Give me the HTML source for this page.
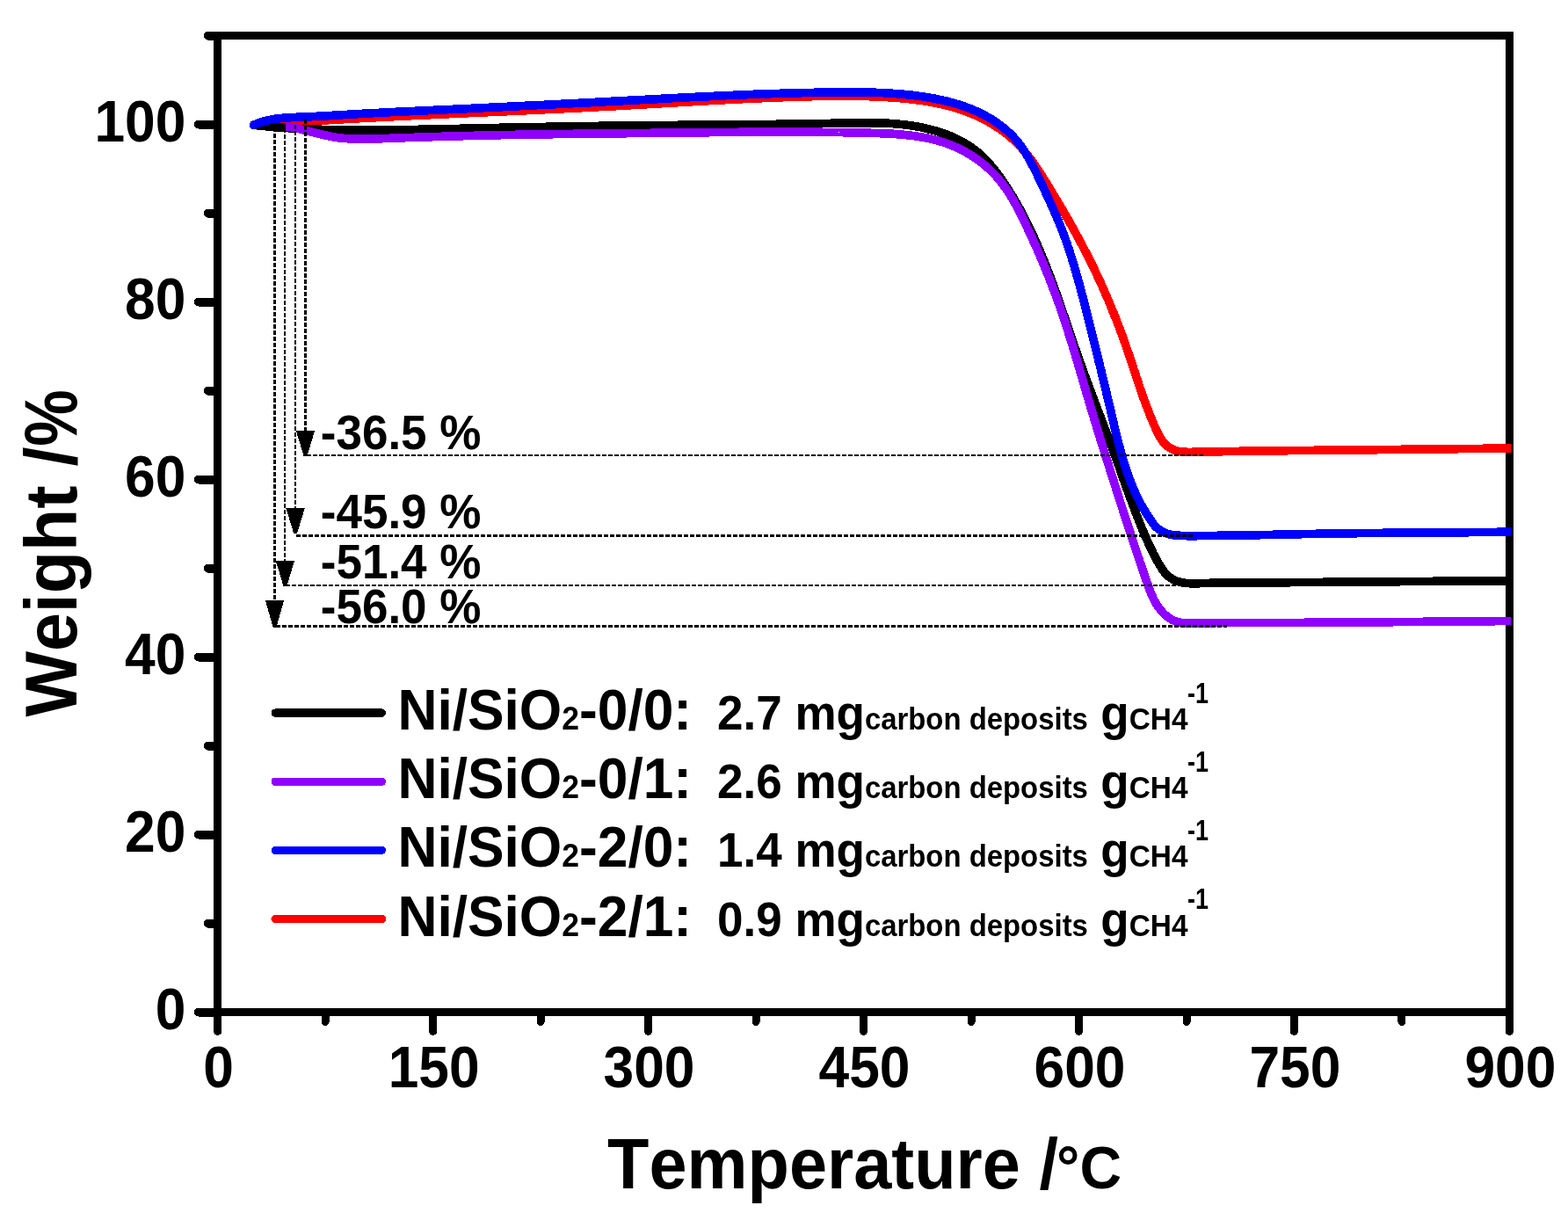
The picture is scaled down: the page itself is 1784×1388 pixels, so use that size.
<!DOCTYPE html>
<html lang="en"><head><meta charset="utf-8"><title>TGA weight loss of spent Ni/SiO2 catalysts</title>
<style>html,body{margin:0;padding:0;background:#fff}svg{display:block}text{font-family:"Liberation Sans",Arial,sans-serif;font-weight:bold;fill:#000;font-kerning:none}</style></head><body>
<svg width="1784" height="1388" viewBox="0 0 1784 1388">
<rect width="1784" height="1388" fill="#fff"/>
<g stroke="#000" stroke-width="9.0" fill="none" stroke-linecap="round" shape-rendering="crispEdges">
<rect x="247.6" y="40.4" width="1469.8" height="1111.0" stroke-linejoin="miter"/>
<line x1="247.6" y1="1151.7" x2="225.6" y2="1151.7" stroke-width="9.6"/>
<line x1="247.6" y1="1050.7" x2="236.4" y2="1050.7" stroke-width="9.6"/>
<line x1="247.6" y1="949.7" x2="225.6" y2="949.7" stroke-width="9.6"/>
<line x1="247.6" y1="848.7" x2="236.4" y2="848.7" stroke-width="9.6"/>
<line x1="247.6" y1="747.7" x2="225.6" y2="747.7" stroke-width="9.6"/>
<line x1="247.6" y1="646.7" x2="236.4" y2="646.7" stroke-width="9.6"/>
<line x1="247.6" y1="545.7" x2="225.6" y2="545.7" stroke-width="9.6"/>
<line x1="247.6" y1="444.7" x2="236.4" y2="444.7" stroke-width="9.6"/>
<line x1="247.6" y1="343.7" x2="225.6" y2="343.7" stroke-width="9.6"/>
<line x1="247.6" y1="242.7" x2="236.4" y2="242.7" stroke-width="9.6"/>
<line x1="247.6" y1="141.7" x2="225.6" y2="141.7" stroke-width="9.6"/>
<line x1="247.6" y1="40.7" x2="236.4" y2="40.7" stroke-width="9.6"/>
<line x1="247.6" y1="1151.4" x2="247.6" y2="1173.4"/>
<line x1="370.1" y1="1151.4" x2="370.1" y2="1162.6"/>
<line x1="492.6" y1="1151.4" x2="492.6" y2="1173.4"/>
<line x1="615.1" y1="1151.4" x2="615.1" y2="1162.6"/>
<line x1="737.5" y1="1151.4" x2="737.5" y2="1173.4"/>
<line x1="860.0" y1="1151.4" x2="860.0" y2="1162.6"/>
<line x1="982.5" y1="1151.4" x2="982.5" y2="1173.4"/>
<line x1="1105.0" y1="1151.4" x2="1105.0" y2="1162.6"/>
<line x1="1227.5" y1="1151.4" x2="1227.5" y2="1173.4"/>
<line x1="1350.0" y1="1151.4" x2="1350.0" y2="1162.6"/>
<line x1="1472.4" y1="1151.4" x2="1472.4" y2="1173.4"/>
<line x1="1594.9" y1="1151.4" x2="1594.9" y2="1162.6"/>
<line x1="1717.4" y1="1151.4" x2="1717.4" y2="1173.4"/>
</g>
<text transform="translate(211.4,1171.1) scale(1,1.06)" font-size="62.3" text-anchor="end">0</text>
<text transform="translate(211.4,969.1) scale(1,1.06)" font-size="62.3" text-anchor="end">20</text>
<text transform="translate(211.4,767.1) scale(1,1.06)" font-size="62.3" text-anchor="end">40</text>
<text transform="translate(211.4,565.1) scale(1,1.06)" font-size="62.3" text-anchor="end">60</text>
<text transform="translate(211.4,363.1) scale(1,1.06)" font-size="62.3" text-anchor="end">80</text>
<text transform="translate(211.4,161.1) scale(1,1.06)" font-size="62.3" text-anchor="end">100</text>
<text transform="translate(248.6,1237.4) scale(1,1.06)" font-size="62.3" text-anchor="middle">0</text>
<text transform="translate(493.6,1237.4) scale(1,1.06)" font-size="62.3" text-anchor="middle">150</text>
<text transform="translate(738.5,1237.4) scale(1,1.06)" font-size="62.3" text-anchor="middle">300</text>
<text transform="translate(983.5,1237.4) scale(1,1.06)" font-size="62.3" text-anchor="middle">450</text>
<text transform="translate(1228.5,1237.4) scale(1,1.06)" font-size="62.3" text-anchor="middle">600</text>
<text transform="translate(1473.4,1237.4) scale(1,1.06)" font-size="62.3" text-anchor="middle">750</text>
<text transform="translate(1718.4,1237.4) scale(1,1.06)" font-size="62.3" text-anchor="middle">900</text>
<text transform="translate(86.8,815.6) rotate(-90) scale(1,1.066)" font-size="79.0">Weight /</text>
<text transform="translate(86.8,507.8) rotate(-90) scale(1,1.066)" font-size="79.4" textLength="64.5" lengthAdjust="spacingAndGlyphs">%</text>
<text transform="translate(691.0,1351.7) scale(1,1.04)" font-size="78.4" textLength="513" lengthAdjust="spacingAndGlyphs">Temperature /</text>
<text transform="translate(1202.0,1351.7) scale(1,1.04)" font-size="66">°C</text>
<clipPath id="plotclip"><rect x="247.6" y="40.4" width="1471.7" height="1111.0"/></clipPath>
<g clip-path="url(#plotclip)" fill="none" stroke-width="9.7" stroke-linecap="round" stroke-linejoin="round" shape-rendering="crispEdges">
<path stroke="#ff0000" d="M288.5,142.3 L290.3,142.2 L292.2,142.0 L294.0,141.9 L295.9,141.8 L297.7,141.6 L299.6,141.5 L301.4,141.4 L303.2,141.2 L305.1,141.1 L306.9,141.0 L308.8,140.8 L310.6,140.7 L312.5,140.6 L314.3,140.4 L316.1,140.3 L318.0,140.2 L319.8,140.1 L321.7,139.9 L323.5,139.8 L325.4,139.7 L327.2,139.6 L329.1,139.5 L330.9,139.3 L332.7,139.2 L334.6,139.1 L336.4,139.0 L338.3,138.8 L340.1,138.7 L342.0,138.6 L343.8,138.5 L345.6,138.4 L347.5,138.3 L349.3,138.1 L351.2,138.0 L353.0,137.9 L354.9,137.8 L356.7,137.7 L358.6,137.6 L360.4,137.5 L362.2,137.4 L364.1,137.2 L365.9,137.1 L367.8,137.0 L369.6,136.9 L371.5,136.8 L373.3,136.7 L375.2,136.6 L377.0,136.5 L378.9,136.4 L380.7,136.3 L382.5,136.2 L384.4,136.1 L386.2,135.9 L388.1,135.8 L389.9,135.7 L391.8,135.6 L393.6,135.5 L395.5,135.4 L397.3,135.3 L399.2,135.2 L401.0,135.1 L402.8,135.0 L404.7,134.9 L406.5,134.8 L408.4,134.7 L410.2,134.6 L412.1,134.5 L413.9,134.4 L415.8,134.3 L417.6,134.2 L419.5,134.1 L421.3,134.0 L423.1,133.9 L425.0,133.8 L426.8,133.7 L428.7,133.6 L430.5,133.6 L432.4,133.5 L434.2,133.4 L436.1,133.3 L437.9,133.2 L439.8,133.1 L441.6,133.0 L443.5,132.9 L445.3,132.8 L447.1,132.7 L449.0,132.6 L450.8,132.5 L452.7,132.4 L454.5,132.3 L456.4,132.3 L458.2,132.2 L460.1,132.1 L461.9,132.0 L463.8,131.9 L465.6,131.8 L467.5,131.7 L469.3,131.6 L471.2,131.5 L473.0,131.4 L474.8,131.4 L476.7,131.3 L478.5,131.2 L480.4,131.1 L482.2,131.0 L484.1,130.9 L485.9,130.8 L487.8,130.7 L489.6,130.7 L491.5,130.6 L493.3,130.5 L495.2,130.4 L497.0,130.3 L498.9,130.2 L500.7,130.1 L502.5,130.1 L504.4,130.0 L506.2,129.9 L508.1,129.8 L509.9,129.7 L511.8,129.6 L513.6,129.5 L515.5,129.5 L517.3,129.4 L519.2,129.3 L521.0,129.2 L522.9,129.1 L524.7,129.0 L526.6,129.0 L528.4,128.9 L530.3,128.8 L532.1,128.7 L533.9,128.6 L535.8,128.5 L537.6,128.5 L539.5,128.4 L541.3,128.3 L543.2,128.2 L545.0,128.1 L546.9,128.0 L548.7,127.9 L550.6,127.9 L552.4,127.8 L554.3,127.7 L556.1,127.6 L558.0,127.5 L559.8,127.4 L561.7,127.4 L563.5,127.3 L565.4,127.2 L567.2,127.1 L569.0,127.0 L570.9,126.9 L572.7,126.9 L574.6,126.8 L576.4,126.7 L578.3,126.6 L580.1,126.5 L582.0,126.4 L583.8,126.4 L585.7,126.3 L587.5,126.2 L589.4,126.1 L591.2,126.0 L593.1,125.9 L594.9,125.9 L596.8,125.8 L598.6,125.7 L600.5,125.6 L602.3,125.5 L604.1,125.4 L606.0,125.3 L607.8,125.3 L609.7,125.2 L611.5,125.1 L613.4,125.0 L615.2,124.9 L617.1,124.8 L618.9,124.7 L620.8,124.6 L622.6,124.6 L624.5,124.5 L626.3,124.4 L628.2,124.3 L630.0,124.2 L631.9,124.1 L633.7,124.0 L635.6,123.9 L637.4,123.9 L639.2,123.8 L641.1,123.7 L642.9,123.6 L644.8,123.5 L646.6,123.4 L648.5,123.3 L650.3,123.2 L652.2,123.1 L654.0,123.0 L655.9,123.0 L657.7,122.9 L659.6,122.8 L661.4,122.7 L663.3,122.6 L665.1,122.5 L667.0,122.4 L668.8,122.3 L670.6,122.2 L672.5,122.1 L674.3,122.0 L676.2,121.9 L678.0,121.8 L679.9,121.7 L681.7,121.6 L683.6,121.5 L685.4,121.5 L687.3,121.4 L689.1,121.3 L691.0,121.2 L692.8,121.1 L694.7,121.0 L696.5,120.9 L698.4,120.8 L700.2,120.7 L702.0,120.6 L703.9,120.5 L705.7,120.4 L707.6,120.3 L709.4,120.2 L711.3,120.1 L713.1,120.0 L715.0,119.9 L716.8,119.7 L718.7,119.6 L720.5,119.5 L722.4,119.4 L724.2,119.3 L726.1,119.2 L727.9,119.1 L729.7,119.0 L731.6,118.9 L733.4,118.8 L735.3,118.7 L737.1,118.6 L739.0,118.5 L740.8,118.4 L742.7,118.3 L744.5,118.2 L746.4,118.1 L748.2,118.0 L750.1,117.9 L751.9,117.7 L753.7,117.6 L755.6,117.5 L757.4,117.4 L759.3,117.3 L761.1,117.2 L763.0,117.1 L764.8,117.0 L766.7,116.9 L768.5,116.8 L770.4,116.7 L772.2,116.6 L774.1,116.5 L775.9,116.4 L777.7,116.3 L779.6,116.2 L781.4,116.0 L783.3,115.9 L785.1,115.8 L787.0,115.7 L788.8,115.6 L790.7,115.5 L792.5,115.4 L794.4,115.3 L796.2,115.2 L798.1,115.1 L799.9,115.0 L801.7,114.9 L803.6,114.8 L805.4,114.7 L807.3,114.6 L809.1,114.5 L811.0,114.4 L812.8,114.3 L814.7,114.2 L816.5,114.1 L818.4,114.0 L820.2,113.9 L822.1,113.8 L823.9,113.7 L825.7,113.6 L827.6,113.5 L829.4,113.4 L831.3,113.3 L833.1,113.2 L835.0,113.1 L836.8,113.0 L838.7,113.0 L840.5,112.9 L842.4,112.8 L844.2,112.7 L846.1,112.6 L847.9,112.5 L849.7,112.4 L851.6,112.3 L853.4,112.2 L855.3,112.2 L857.1,112.1 L859.0,112.0 L860.8,111.9 L862.7,111.8 L864.5,111.7 L866.4,111.7 L868.2,111.6 L870.1,111.5 L871.9,111.4 L873.8,111.3 L875.6,111.3 L877.4,111.2 L879.3,111.1 L881.1,111.0 L883.0,111.0 L884.8,110.9 L886.7,110.8 L888.5,110.8 L890.4,110.7 L892.2,110.6 L894.1,110.6 L895.9,110.5 L897.8,110.4 L899.6,110.4 L901.5,110.3 L903.3,110.2 L905.1,110.2 L907.0,110.1 L908.8,110.1 L910.7,110.0 L912.5,110.0 L914.4,109.9 L916.2,109.9 L918.1,109.8 L919.9,109.8 L921.8,109.7 L923.6,109.7 L925.5,109.6 L927.3,109.6 L929.2,109.5 L931.0,109.5 L932.9,109.5 L934.7,109.4 L936.6,109.4 L938.4,109.4 L940.2,109.3 L942.1,109.3 L943.9,109.3 L945.8,109.3 L947.6,109.3 L949.5,109.2 L951.3,109.2 L953.2,109.2 L955.0,109.2 L956.9,109.2 L958.7,109.2 L960.6,109.2 L962.4,109.2 L964.3,109.2 L966.1,109.2 L968.0,109.2 L969.8,109.3 L971.7,109.3 L973.5,109.3 L975.4,109.3 L977.2,109.4 L979.1,109.4 L980.9,109.4 L982.8,109.5 L984.6,109.5 L986.5,109.6 L988.3,109.6 L990.2,109.7 L992.0,109.8 L993.9,109.8 L995.7,109.9 L997.6,110.0 L999.4,110.1 L1001.3,110.2 L1003.1,110.3 L1005.0,110.4 L1006.8,110.5 L1008.7,110.6 L1010.5,110.7 L1012.4,110.8 L1014.2,110.9 L1016.1,111.1 L1017.9,111.2 L1019.8,111.3 L1021.6,111.5 L1023.5,111.6 L1025.3,111.8 L1027.2,112.0 L1029.0,112.1 L1030.9,112.3 L1032.7,112.5 L1034.6,112.7 L1036.4,112.9 L1038.2,113.1 L1040.1,113.3 L1041.9,113.6 L1043.8,113.8 L1045.6,114.0 L1047.4,114.3 L1049.3,114.6 L1051.1,114.8 L1052.9,115.1 L1054.8,115.4 L1056.6,115.7 L1058.4,116.0 L1060.2,116.4 L1062.0,116.7 L1063.8,117.0 L1065.6,117.4 L1067.5,117.8 L1069.3,118.2 L1071.1,118.6 L1072.9,119.0 L1074.6,119.4 L1076.4,119.8 L1078.2,120.3 L1080.0,120.8 L1081.8,121.2 L1083.5,121.7 L1085.3,122.2 L1087.1,122.8 L1088.8,123.3 L1090.6,123.8 L1092.3,124.4 L1094.1,125.0 L1095.8,125.6 L1097.5,126.2 L1099.3,126.8 L1101.0,127.5 L1102.7,128.2 L1104.4,128.8 L1106.1,129.5 L1107.8,130.3 L1109.5,131.0 L1111.2,131.7 L1112.8,132.5 L1114.5,133.3 L1116.2,134.1 L1117.8,135.0 L1119.5,135.8 L1121.1,136.7 L1122.8,137.6 L1124.4,138.5 L1126.0,139.4 L1127.6,140.3 L1129.2,141.3 L1130.8,142.3 L1132.3,143.3 L1133.9,144.3 L1135.5,145.3 L1137.0,146.3 L1138.5,147.4 L1140.0,148.5 L1141.5,149.6 L1143.0,150.7 L1144.5,151.9 L1145.9,153.0 L1147.4,154.2 L1148.8,155.4 L1150.2,156.6 L1151.6,157.8 L1153.0,159.0 L1154.3,160.3 L1155.7,161.6 L1157.0,162.9 L1158.3,164.2 L1159.6,165.5 L1160.9,166.8 L1162.1,168.2 L1163.3,169.6 L1164.5,171.0 L1165.7,172.4 L1166.9,173.8 L1168.1,175.2 L1169.2,176.6 L1170.3,178.1 L1171.5,179.6 L1172.6,181.0 L1173.7,182.5 L1174.7,184.0 L1175.8,185.5 L1176.9,187.0 L1177.9,188.5 L1179.0,190.1 L1180.0,191.6 L1181.0,193.1 L1182.0,194.7 L1183.0,196.2 L1184.0,197.8 L1185.0,199.4 L1186.0,200.9 L1187.0,202.5 L1188.0,204.1 L1188.9,205.7 L1189.9,207.2 L1190.9,208.8 L1191.8,210.4 L1192.8,212.0 L1193.8,213.5 L1194.7,215.1 L1195.7,216.7 L1196.6,218.3 L1197.6,219.9 L1198.6,221.5 L1199.5,223.0 L1200.5,224.6 L1201.4,226.2 L1202.4,227.8 L1203.3,229.4 L1204.2,231.0 L1205.2,232.6 L1206.1,234.2 L1207.1,235.7 L1208.0,237.3 L1208.9,238.9 L1209.8,240.5 L1210.8,242.1 L1211.7,243.7 L1212.6,245.3 L1213.5,246.9 L1214.5,248.5 L1215.4,250.1 L1216.3,251.7 L1217.2,253.3 L1218.1,254.9 L1219.0,256.6 L1219.9,258.2 L1220.8,259.8 L1221.7,261.4 L1222.6,263.0 L1223.5,264.6 L1224.3,266.2 L1225.2,267.9 L1226.1,269.5 L1227.0,271.1 L1227.9,272.7 L1228.7,274.4 L1229.6,276.0 L1230.5,277.6 L1231.3,279.2 L1232.2,280.9 L1233.0,282.5 L1233.9,284.2 L1234.7,285.8 L1235.6,287.4 L1236.4,289.1 L1237.3,290.7 L1238.1,292.4 L1238.9,294.0 L1239.8,295.7 L1240.6,297.3 L1241.4,299.0 L1242.2,300.7 L1243.0,302.3 L1243.9,304.0 L1244.7,305.6 L1245.5,307.3 L1246.3,309.0 L1247.1,310.7 L1247.9,312.3 L1248.6,314.0 L1249.4,315.7 L1250.2,317.4 L1251.0,319.1 L1251.8,320.7 L1252.5,322.4 L1253.3,324.1 L1254.1,325.8 L1254.8,327.5 L1255.6,329.2 L1256.3,330.9 L1257.1,332.6 L1257.8,334.3 L1258.6,336.0 L1259.3,337.7 L1260.0,339.4 L1260.8,341.1 L1261.5,342.8 L1262.2,344.5 L1262.9,346.2 L1263.6,348.0 L1264.3,349.7 L1265.0,351.4 L1265.7,353.1 L1266.4,354.8 L1267.1,356.5 L1267.8,358.3 L1268.5,360.0 L1269.2,361.7 L1269.9,363.4 L1270.6,365.2 L1271.2,366.9 L1271.9,368.6 L1272.6,370.4 L1273.2,372.1 L1273.9,373.8 L1274.5,375.6 L1275.2,377.3 L1275.8,379.0 L1276.5,380.8 L1277.1,382.5 L1277.7,384.2 L1278.3,386.0 L1279.0,387.7 L1279.6,389.5 L1280.2,391.2 L1280.8,393.0 L1281.4,394.7 L1282.0,396.5 L1282.6,398.2 L1283.2,399.9 L1283.8,401.7 L1284.4,403.4 L1285.0,405.2 L1285.6,406.9 L1286.2,408.7 L1286.8,410.4 L1287.3,412.2 L1287.9,413.9 L1288.5,415.7 L1289.1,417.4 L1289.6,419.2 L1290.2,420.9 L1290.8,422.7 L1291.4,424.5 L1292.0,426.2 L1292.5,428.0 L1293.1,429.7 L1293.7,431.4 L1294.3,433.2 L1294.9,434.9 L1295.5,436.7 L1296.0,438.4 L1296.6,440.2 L1297.2,441.9 L1297.8,443.7 L1298.4,445.4 L1299.0,447.2 L1299.6,448.9 L1300.3,450.6 L1300.9,452.4 L1301.5,454.1 L1302.1,455.8 L1302.8,457.6 L1303.4,459.3 L1304.0,461.0 L1304.7,462.8 L1305.4,464.5 L1306.0,466.2 L1306.7,467.9 L1307.4,469.7 L1308.0,471.4 L1308.7,473.1 L1309.4,474.8 L1310.1,476.5 L1310.9,478.2 L1311.6,480.0 L1312.3,481.7 L1313.0,483.4 L1313.8,485.1 L1314.6,486.8 L1315.3,488.5 L1316.1,490.2 L1316.9,491.8 L1317.7,493.5 L1318.6,495.2 L1319.5,496.8 L1320.4,498.4 L1321.4,499.9 L1322.5,501.4 L1323.6,502.9 L1324.8,504.3 L1326.1,505.6 L1327.5,506.9 L1328.9,508.0 L1330.5,509.1 L1332.0,510.1 L1333.6,511.0 L1335.3,511.7 L1337.0,512.4 L1338.7,512.9 L1340.5,513.3 L1342.2,513.7 L1344.0,513.9 L1345.9,514.1 L1347.7,514.3 L1349.5,514.3 L1351.4,514.4 L1353.3,514.4 L1355.1,514.4 L1357.0,514.3 L1358.9,514.3 L1360.7,514.3 L1362.6,514.2 L1364.5,514.2 L1366.3,514.1 L1368.2,514.1 L1370.1,514.1 L1371.9,514.0 L1373.8,514.0 L1375.6,514.0 L1377.5,513.9 L1379.3,513.9 L1381.2,513.9 L1383.1,513.8 L1384.9,513.8 L1386.8,513.7 L1388.6,513.7 L1390.4,513.7 L1392.3,513.6 L1394.1,513.6 L1396.0,513.6 L1397.8,513.5 L1399.7,513.5 L1401.5,513.5 L1403.4,513.5 L1405.2,513.4 L1407.1,513.4 L1408.9,513.4 L1410.7,513.3 L1412.6,513.3 L1414.4,513.3 L1416.3,513.2 L1418.1,513.2 L1420.0,513.2 L1421.8,513.2 L1423.7,513.1 L1425.5,513.1 L1427.3,513.1 L1429.2,513.1 L1431.0,513.0 L1432.9,513.0 L1434.7,513.0 L1436.6,513.0 L1438.4,512.9 L1440.3,512.9 L1442.1,512.9 L1444.0,512.9 L1445.8,512.9 L1447.7,512.8 L1449.5,512.8 L1451.4,512.8 L1453.2,512.8 L1455.1,512.8 L1456.9,512.7 L1458.8,512.7 L1460.6,512.7 L1462.5,512.7 L1464.3,512.7 L1466.2,512.6 L1468.0,512.6 L1469.9,512.6 L1471.7,512.6 L1473.6,512.6 L1475.4,512.5 L1477.3,512.5 L1479.1,512.5 L1481.0,512.5 L1482.8,512.5 L1484.7,512.4 L1486.5,512.4 L1488.4,512.4 L1490.2,512.4 L1492.1,512.4 L1493.9,512.4 L1495.8,512.3 L1497.6,512.3 L1499.5,512.3 L1501.3,512.3 L1503.2,512.3 L1505.0,512.3 L1506.9,512.2 L1508.7,512.2 L1510.6,512.2 L1512.4,512.2 L1514.3,512.2 L1516.1,512.2 L1518.0,512.1 L1519.8,512.1 L1521.7,512.1 L1523.5,512.1 L1525.4,512.1 L1527.2,512.0 L1529.1,512.0 L1530.9,512.0 L1532.8,512.0 L1534.6,512.0 L1536.5,512.0 L1538.3,511.9 L1540.2,511.9 L1542.0,511.9 L1543.9,511.9 L1545.7,511.9 L1547.6,511.8 L1549.4,511.8 L1551.3,511.8 L1553.1,511.8 L1555.0,511.8 L1556.8,511.8 L1558.6,511.7 L1560.5,511.7 L1562.3,511.7 L1564.2,511.7 L1566.0,511.7 L1567.9,511.6 L1569.7,511.6 L1571.6,511.6 L1573.4,511.6 L1575.3,511.6 L1577.1,511.5 L1579.0,511.5 L1580.8,511.5 L1582.7,511.5 L1584.5,511.5 L1586.4,511.4 L1588.2,511.4 L1590.1,511.4 L1591.9,511.4 L1593.8,511.4 L1595.6,511.3 L1597.5,511.3 L1599.3,511.3 L1601.2,511.3 L1603.0,511.3 L1604.9,511.2 L1606.7,511.2 L1608.6,511.2 L1610.4,511.2 L1612.3,511.2 L1614.1,511.1 L1616.0,511.1 L1617.8,511.1 L1619.7,511.1 L1621.5,511.1 L1623.4,511.0 L1625.2,511.0 L1627.0,511.0 L1628.9,511.0 L1630.7,511.0 L1632.6,510.9 L1634.4,510.9 L1636.3,510.9 L1638.1,510.9 L1640.0,510.9 L1641.8,510.8 L1643.7,510.8 L1645.5,510.8 L1647.4,510.8 L1649.2,510.8 L1651.1,510.7 L1652.9,510.7 L1654.8,510.7 L1656.6,510.7 L1658.5,510.7 L1660.3,510.6 L1662.2,510.6 L1664.0,510.6 L1665.9,510.6 L1667.7,510.6 L1669.6,510.5 L1671.4,510.5 L1673.3,510.5 L1675.1,510.5 L1677.0,510.5 L1678.8,510.4 L1680.7,510.4 L1682.5,510.4 L1684.4,510.4 L1686.2,510.4 L1688.1,510.3 L1689.9,510.3 L1691.8,510.3 L1693.6,510.3 L1695.5,510.3 L1697.3,510.2 L1699.2,510.2 L1701.0,510.2 L1702.9,510.2 L1704.7,510.2 L1706.6,510.1 L1708.4,510.1 L1710.3,510.1 L1712.1,510.1 L1714.0,510.1 L1715.8,510.0 L1717.7,510.0 L1719.5,510.0"/>
<path stroke="#000000" d="M288.5,142.3 L290.4,142.5 L292.4,142.7 L294.3,142.9 L296.3,143.1 L298.2,143.3 L300.2,143.5 L302.1,143.6 L304.1,143.8 L306.0,144.0 L308.0,144.1 L309.9,144.3 L311.8,144.5 L313.8,144.6 L315.7,144.8 L317.7,144.9 L319.6,145.1 L321.6,145.2 L323.5,145.3 L325.5,145.5 L327.4,145.6 L329.4,145.7 L331.3,145.8 L333.3,145.9 L335.2,146.1 L337.2,146.2 L339.1,146.3 L341.1,146.4 L343.0,146.5 L344.9,146.6 L346.9,146.7 L348.8,146.7 L350.8,146.8 L352.7,146.9 L354.7,147.0 L356.6,147.1 L358.6,147.1 L360.5,147.2 L362.5,147.3 L364.4,147.3 L366.4,147.4 L368.3,147.5 L370.3,147.5 L372.2,147.6 L374.2,147.6 L376.1,147.7 L378.1,147.7 L380.0,147.8 L382.0,147.8 L383.9,147.8 L385.9,147.9 L387.8,147.9 L389.8,147.9 L391.7,147.9 L393.7,148.0 L395.6,148.0 L397.6,148.0 L399.5,148.0 L401.5,148.0 L403.4,148.1 L405.4,148.1 L407.3,148.1 L409.3,148.1 L411.2,148.1 L413.2,148.1 L415.2,148.1 L417.1,148.1 L419.1,148.1 L421.0,148.1 L423.0,148.1 L424.9,148.1 L426.9,148.1 L428.8,148.0 L430.8,148.0 L432.7,148.0 L434.7,148.0 L436.6,148.0 L438.6,148.0 L440.5,147.9 L442.5,147.9 L444.4,147.9 L446.4,147.9 L448.3,147.8 L450.3,147.8 L452.2,147.8 L454.2,147.8 L456.1,147.7 L458.1,147.7 L460.1,147.7 L462.0,147.6 L464.0,147.6 L465.9,147.6 L467.9,147.5 L469.8,147.5 L471.8,147.5 L473.7,147.4 L475.7,147.4 L477.6,147.3 L479.6,147.3 L481.5,147.3 L483.5,147.2 L485.4,147.2 L487.4,147.1 L489.4,147.1 L491.3,147.1 L493.3,147.0 L495.2,147.0 L497.2,146.9 L499.1,146.9 L501.1,146.8 L503.0,146.8 L505.0,146.7 L506.9,146.7 L508.9,146.7 L510.8,146.6 L512.8,146.6 L514.7,146.5 L516.7,146.5 L518.7,146.4 L520.6,146.4 L522.6,146.4 L524.5,146.3 L526.5,146.3 L528.4,146.2 L530.4,146.2 L532.3,146.1 L534.3,146.1 L536.2,146.1 L538.2,146.0 L540.1,146.0 L542.1,145.9 L544.0,145.9 L546.0,145.8 L548.0,145.8 L549.9,145.8 L551.9,145.7 L553.8,145.7 L555.8,145.6 L557.7,145.6 L559.7,145.6 L561.6,145.5 L563.6,145.5 L565.5,145.4 L567.5,145.4 L569.4,145.3 L571.4,145.3 L573.4,145.3 L575.3,145.2 L577.3,145.2 L579.2,145.1 L581.2,145.1 L583.1,145.1 L585.1,145.0 L587.0,145.0 L589.0,145.0 L590.9,144.9 L592.9,144.9 L594.8,144.8 L596.8,144.8 L598.7,144.8 L600.7,144.7 L602.7,144.7 L604.6,144.7 L606.6,144.6 L608.5,144.6 L610.5,144.5 L612.4,144.5 L614.4,144.5 L616.3,144.4 L618.3,144.4 L620.2,144.4 L622.2,144.3 L624.1,144.3 L626.1,144.3 L628.1,144.2 L630.0,144.2 L632.0,144.2 L633.9,144.1 L635.9,144.1 L637.8,144.1 L639.8,144.0 L641.7,144.0 L643.7,144.0 L645.6,143.9 L647.6,143.9 L649.5,143.9 L651.5,143.8 L653.4,143.8 L655.4,143.8 L657.3,143.7 L659.3,143.7 L661.3,143.7 L663.2,143.6 L665.2,143.6 L667.1,143.6 L669.1,143.5 L671.0,143.5 L673.0,143.5 L674.9,143.5 L676.9,143.4 L678.8,143.4 L680.8,143.4 L682.7,143.3 L684.7,143.3 L686.6,143.3 L688.6,143.3 L690.6,143.2 L692.5,143.2 L694.5,143.2 L696.4,143.2 L698.4,143.1 L700.3,143.1 L702.3,143.1 L704.2,143.1 L706.2,143.0 L708.1,143.0 L710.1,143.0 L712.0,143.0 L714.0,142.9 L715.9,142.9 L717.9,142.9 L719.8,142.9 L721.8,142.8 L723.7,142.8 L725.7,142.8 L727.6,142.8 L729.6,142.8 L731.6,142.7 L733.5,142.7 L735.5,142.7 L737.4,142.7 L739.4,142.7 L741.3,142.6 L743.3,142.6 L745.2,142.6 L747.2,142.6 L749.1,142.6 L751.1,142.5 L753.0,142.5 L755.0,142.5 L756.9,142.5 L758.9,142.5 L760.8,142.4 L762.8,142.4 L764.7,142.4 L766.7,142.4 L768.6,142.4 L770.6,142.4 L772.5,142.3 L774.5,142.3 L776.5,142.3 L778.4,142.3 L780.4,142.3 L782.3,142.3 L784.3,142.3 L786.2,142.2 L788.2,142.2 L790.1,142.2 L792.1,142.2 L794.0,142.2 L796.0,142.2 L797.9,142.1 L799.9,142.1 L801.8,142.1 L803.8,142.1 L805.7,142.1 L807.7,142.1 L809.6,142.0 L811.6,142.0 L813.5,142.0 L815.5,142.0 L817.4,142.0 L819.4,142.0 L821.4,141.9 L823.3,141.9 L825.3,141.9 L827.2,141.9 L829.2,141.9 L831.1,141.9 L833.1,141.8 L835.0,141.8 L837.0,141.8 L838.9,141.8 L840.9,141.8 L842.8,141.8 L844.8,141.7 L846.7,141.7 L848.7,141.7 L850.6,141.7 L852.6,141.7 L854.6,141.6 L856.5,141.6 L858.5,141.6 L860.4,141.6 L862.4,141.6 L864.3,141.5 L866.3,141.5 L868.2,141.5 L870.2,141.5 L872.1,141.5 L874.1,141.4 L876.0,141.4 L878.0,141.4 L879.9,141.4 L881.9,141.4 L883.9,141.3 L885.8,141.3 L887.8,141.3 L889.7,141.3 L891.7,141.2 L893.6,141.2 L895.6,141.2 L897.5,141.1 L899.5,141.1 L901.4,141.1 L903.4,141.1 L905.4,141.0 L907.3,141.0 L909.3,141.0 L911.2,141.0 L913.2,140.9 L915.1,140.9 L917.1,140.9 L919.0,140.8 L921.0,140.8 L923.0,140.8 L924.9,140.7 L926.9,140.7 L928.8,140.7 L930.8,140.6 L932.7,140.6 L934.7,140.6 L936.7,140.5 L938.6,140.5 L940.6,140.4 L942.5,140.4 L944.5,140.4 L946.4,140.3 L948.4,140.3 L950.4,140.2 L952.3,140.2 L954.3,140.2 L956.2,140.1 L958.2,140.1 L960.1,140.0 L962.1,140.0 L964.1,139.9 L966.0,139.9 L968.0,139.9 L969.9,139.8 L971.9,139.8 L973.8,139.8 L975.8,139.8 L977.8,139.7 L979.7,139.7 L981.7,139.7 L983.6,139.7 L985.6,139.7 L987.5,139.7 L989.5,139.7 L991.4,139.7 L993.4,139.7 L995.3,139.8 L997.3,139.8 L999.2,139.9 L1001.2,139.9 L1003.1,140.0 L1005.1,140.1 L1007.0,140.1 L1009.0,140.2 L1010.9,140.3 L1012.8,140.5 L1014.8,140.6 L1016.7,140.7 L1018.7,140.9 L1020.6,141.0 L1022.5,141.2 L1024.5,141.4 L1026.4,141.6 L1028.3,141.8 L1030.2,142.0 L1032.2,142.3 L1034.1,142.5 L1036.0,142.8 L1037.9,143.1 L1039.9,143.4 L1041.8,143.7 L1043.7,144.0 L1045.6,144.4 L1047.5,144.7 L1049.4,145.1 L1051.3,145.5 L1053.2,146.0 L1055.1,146.4 L1057.0,146.9 L1058.9,147.4 L1060.8,147.9 L1062.7,148.4 L1064.6,148.9 L1066.5,149.5 L1068.4,150.1 L1070.3,150.7 L1072.1,151.3 L1074.0,152.0 L1075.9,152.6 L1077.7,153.3 L1079.5,154.0 L1081.4,154.8 L1083.2,155.6 L1085.0,156.3 L1086.8,157.2 L1088.5,158.0 L1090.3,158.9 L1092.0,159.8 L1093.8,160.7 L1095.5,161.6 L1097.2,162.6 L1098.9,163.6 L1100.5,164.6 L1102.2,165.6 L1103.8,166.7 L1105.4,167.8 L1107.0,169.0 L1108.5,170.1 L1110.1,171.3 L1111.6,172.5 L1113.1,173.8 L1114.5,175.0 L1116.0,176.3 L1117.4,177.6 L1118.8,179.0 L1120.2,180.4 L1121.5,181.7 L1122.9,183.2 L1124.2,184.6 L1125.5,186.0 L1126.8,187.5 L1128.1,189.0 L1129.3,190.5 L1130.6,192.0 L1131.8,193.5 L1133.0,195.1 L1134.2,196.6 L1135.4,198.2 L1136.5,199.8 L1137.7,201.4 L1138.8,203.0 L1139.9,204.6 L1141.1,206.2 L1142.2,207.9 L1143.3,209.5 L1144.3,211.1 L1145.4,212.8 L1146.5,214.4 L1147.5,216.1 L1148.6,217.8 L1149.6,219.4 L1150.6,221.1 L1151.7,222.8 L1152.7,224.4 L1153.7,226.1 L1154.7,227.8 L1155.6,229.5 L1156.6,231.2 L1157.6,232.9 L1158.5,234.6 L1159.5,236.3 L1160.4,238.0 L1161.4,239.7 L1162.3,241.4 L1163.2,243.1 L1164.1,244.9 L1165.0,246.6 L1165.9,248.3 L1166.8,250.1 L1167.7,251.8 L1168.5,253.5 L1169.4,255.3 L1170.3,257.0 L1171.1,258.8 L1172.0,260.5 L1172.8,262.3 L1173.6,264.0 L1174.4,265.8 L1175.3,267.6 L1176.1,269.3 L1176.9,271.1 L1177.7,272.9 L1178.5,274.7 L1179.3,276.4 L1180.0,278.2 L1180.8,280.0 L1181.6,281.8 L1182.4,283.6 L1183.1,285.4 L1183.9,287.2 L1184.6,289.0 L1185.4,290.8 L1186.1,292.6 L1186.8,294.4 L1187.6,296.2 L1188.3,298.0 L1189.0,299.8 L1189.7,301.6 L1190.5,303.4 L1191.2,305.3 L1191.9,307.1 L1192.6,308.9 L1193.3,310.7 L1194.0,312.5 L1194.7,314.4 L1195.3,316.2 L1196.0,318.0 L1196.7,319.9 L1197.4,321.7 L1198.1,323.5 L1198.7,325.4 L1199.4,327.2 L1200.1,329.0 L1200.7,330.9 L1201.4,332.7 L1202.1,334.5 L1202.7,336.4 L1203.4,338.2 L1204.0,340.1 L1204.7,341.9 L1205.3,343.8 L1206.0,345.6 L1206.6,347.5 L1207.2,349.3 L1207.9,351.2 L1208.5,353.0 L1209.2,354.9 L1209.8,356.7 L1210.4,358.6 L1211.1,360.4 L1211.7,362.3 L1212.3,364.1 L1213.0,366.0 L1213.6,367.8 L1214.2,369.7 L1214.9,371.5 L1215.5,373.4 L1216.1,375.2 L1216.8,377.1 L1217.4,378.9 L1218.0,380.8 L1218.7,382.6 L1219.3,384.5 L1219.9,386.4 L1220.6,388.2 L1221.2,390.1 L1221.8,391.9 L1222.5,393.8 L1223.1,395.6 L1223.8,397.5 L1224.4,399.3 L1225.0,401.2 L1225.7,403.0 L1226.3,404.8 L1227.0,406.7 L1227.6,408.5 L1228.3,410.4 L1228.9,412.2 L1229.6,414.1 L1230.2,415.9 L1230.9,417.8 L1231.5,419.6 L1232.2,421.4 L1232.9,423.3 L1233.5,425.1 L1234.2,426.9 L1234.9,428.8 L1235.6,430.6 L1236.2,432.4 L1236.9,434.3 L1237.6,436.1 L1238.3,437.9 L1239.0,439.8 L1239.6,441.6 L1240.3,443.4 L1241.0,445.2 L1241.7,447.1 L1242.4,448.9 L1243.1,450.7 L1243.8,452.5 L1244.5,454.4 L1245.1,456.2 L1245.8,458.0 L1246.5,459.8 L1247.2,461.7 L1247.9,463.5 L1248.6,465.3 L1249.3,467.1 L1250.0,469.0 L1250.7,470.8 L1251.4,472.6 L1252.1,474.4 L1252.8,476.3 L1253.5,478.1 L1254.2,479.9 L1254.9,481.7 L1255.6,483.5 L1256.2,485.4 L1256.9,487.2 L1257.6,489.0 L1258.3,490.8 L1259.0,492.7 L1259.7,494.5 L1260.4,496.3 L1261.1,498.1 L1261.8,500.0 L1262.4,501.8 L1263.1,503.6 L1263.8,505.5 L1264.5,507.3 L1265.2,509.1 L1265.8,510.9 L1266.5,512.8 L1267.2,514.6 L1267.9,516.4 L1268.5,518.3 L1269.2,520.1 L1269.9,521.9 L1270.5,523.8 L1271.2,525.6 L1271.9,527.5 L1272.5,529.3 L1273.2,531.1 L1273.8,533.0 L1274.5,534.8 L1275.1,536.7 L1275.8,538.5 L1276.5,540.3 L1277.1,542.2 L1277.8,544.0 L1278.4,545.9 L1279.1,547.7 L1279.7,549.5 L1280.4,551.4 L1281.1,553.2 L1281.7,555.1 L1282.4,556.9 L1283.1,558.7 L1283.7,560.6 L1284.4,562.4 L1285.1,564.2 L1285.7,566.1 L1286.4,567.9 L1287.1,569.7 L1287.8,571.6 L1288.4,573.4 L1289.1,575.2 L1289.8,577.1 L1290.5,578.9 L1291.2,580.7 L1291.9,582.5 L1292.6,584.4 L1293.3,586.2 L1294.0,588.0 L1294.7,589.8 L1295.4,591.6 L1296.2,593.5 L1296.9,595.3 L1297.6,597.1 L1298.4,598.9 L1299.1,600.7 L1299.9,602.5 L1300.6,604.3 L1301.4,606.1 L1302.2,607.9 L1302.9,609.7 L1303.7,611.5 L1304.5,613.3 L1305.3,615.0 L1306.1,616.8 L1306.9,618.6 L1307.7,620.4 L1308.5,622.2 L1309.4,623.9 L1310.2,625.7 L1311.1,627.4 L1311.9,629.2 L1312.8,630.9 L1313.7,632.7 L1314.6,634.4 L1315.5,636.1 L1316.5,637.8 L1317.4,639.5 L1318.4,641.2 L1319.4,642.9 L1320.5,644.6 L1321.5,646.2 L1322.6,647.9 L1323.7,649.5 L1324.9,651.0 L1326.1,652.5 L1327.5,653.9 L1328.8,655.3 L1330.3,656.5 L1331.9,657.6 L1333.6,658.6 L1335.3,659.6 L1337.1,660.4 L1338.9,661.1 L1340.8,661.7 L1342.6,662.2 L1344.5,662.6 L1346.4,663.0 L1348.3,663.3 L1350.3,663.5 L1352.2,663.6 L1354.1,663.7 L1356.1,663.8 L1358.1,663.8 L1360.0,663.8 L1362.0,663.8 L1364.0,663.7 L1365.9,663.6 L1367.9,663.6 L1369.9,663.5 L1371.8,663.4 L1373.8,663.4 L1375.8,663.4 L1377.7,663.3 L1379.7,663.3 L1381.6,663.3 L1383.6,663.2 L1385.5,663.2 L1387.5,663.2 L1389.4,663.2 L1391.4,663.2 L1393.3,663.2 L1395.3,663.2 L1397.2,663.2 L1399.2,663.1 L1401.1,663.1 L1403.1,663.1 L1405.0,663.1 L1407.0,663.1 L1408.9,663.1 L1410.9,663.1 L1412.8,663.1 L1414.8,663.0 L1416.7,663.0 L1418.7,663.0 L1420.7,663.0 L1422.6,663.0 L1424.6,663.0 L1426.5,663.0 L1428.5,663.0 L1430.4,662.9 L1432.4,662.9 L1434.3,662.9 L1436.3,662.9 L1438.2,662.9 L1440.2,662.9 L1442.1,662.9 L1444.1,662.8 L1446.0,662.8 L1448.0,662.8 L1449.9,662.8 L1451.9,662.8 L1453.8,662.8 L1455.8,662.8 L1457.8,662.7 L1459.7,662.7 L1461.7,662.7 L1463.6,662.7 L1465.6,662.7 L1467.5,662.7 L1469.5,662.6 L1471.4,662.6 L1473.4,662.6 L1475.3,662.6 L1477.3,662.6 L1479.2,662.6 L1481.2,662.5 L1483.2,662.5 L1485.1,662.5 L1487.1,662.5 L1489.0,662.5 L1491.0,662.5 L1492.9,662.5 L1494.9,662.4 L1496.8,662.4 L1498.8,662.4 L1500.7,662.4 L1502.7,662.4 L1504.6,662.4 L1506.6,662.3 L1508.6,662.3 L1510.5,662.3 L1512.5,662.3 L1514.4,662.3 L1516.4,662.3 L1518.3,662.2 L1520.3,662.2 L1522.2,662.2 L1524.2,662.2 L1526.1,662.2 L1528.1,662.2 L1530.0,662.2 L1532.0,662.1 L1533.9,662.1 L1535.9,662.1 L1537.9,662.1 L1539.8,662.1 L1541.8,662.1 L1543.7,662.0 L1545.7,662.0 L1547.6,662.0 L1549.6,662.0 L1551.5,662.0 L1553.5,662.0 L1555.4,661.9 L1557.4,661.9 L1559.3,661.9 L1561.3,661.9 L1563.2,661.9 L1565.2,661.9 L1567.2,661.9 L1569.1,661.8 L1571.1,661.8 L1573.0,661.8 L1575.0,661.8 L1576.9,661.8 L1578.9,661.8 L1580.8,661.7 L1582.8,661.7 L1584.7,661.7 L1586.7,661.7 L1588.6,661.7 L1590.6,661.7 L1592.5,661.7 L1594.5,661.6 L1596.4,661.6 L1598.4,661.6 L1600.4,661.6 L1602.3,661.6 L1604.3,661.6 L1606.2,661.5 L1608.2,661.5 L1610.1,661.5 L1612.1,661.5 L1614.0,661.5 L1616.0,661.5 L1617.9,661.5 L1619.9,661.4 L1621.8,661.4 L1623.8,661.4 L1625.7,661.4 L1627.7,661.4 L1629.6,661.4 L1631.6,661.3 L1633.6,661.3 L1635.5,661.3 L1637.5,661.3 L1639.4,661.3 L1641.4,661.3 L1643.3,661.3 L1645.3,661.2 L1647.2,661.2 L1649.2,661.2 L1651.1,661.2 L1653.1,661.2 L1655.0,661.2 L1657.0,661.1 L1658.9,661.1 L1660.9,661.1 L1662.9,661.1 L1664.8,661.1 L1666.8,661.1 L1668.7,661.0 L1670.7,661.0 L1672.6,661.0 L1674.6,661.0 L1676.5,661.0 L1678.5,661.0 L1680.4,660.9 L1682.4,660.9 L1684.3,660.9 L1686.3,660.9 L1688.2,660.9 L1690.2,660.9 L1692.2,660.8 L1694.1,660.8 L1696.1,660.8 L1698.0,660.8 L1700.0,660.8 L1701.9,660.8 L1703.9,660.7 L1705.8,660.7 L1707.8,660.7 L1709.7,660.7 L1711.7,660.7 L1713.6,660.6 L1715.6,660.6 L1717.5,660.6 L1719.5,660.6"/>
<path stroke="#9000ff" stroke-linecap="butt" d="M325.0,143.6 L326.9,143.9 L328.8,144.2 L330.7,144.6 L332.6,144.9 L334.5,145.3 L336.4,145.7 L338.3,146.2 L340.1,146.6 L342.0,147.0 L343.9,147.5 L345.8,147.9 L347.7,148.4 L349.6,148.9 L351.5,149.4 L353.4,149.9 L355.3,150.3 L357.2,150.8 L359.1,151.3 L360.9,151.8 L362.8,152.2 L364.7,152.7 L366.6,153.2 L368.5,153.6 L370.4,154.0 L372.3,154.4 L374.3,154.8 L376.2,155.2 L378.1,155.6 L380.0,155.9 L381.9,156.2 L383.8,156.5 L385.8,156.8 L387.7,157.0 L389.6,157.2 L391.6,157.4 L393.5,157.6 L395.4,157.7 L397.4,157.8 L399.3,158.0 L401.3,158.0 L403.2,158.1 L405.2,158.2 L407.1,158.2 L409.1,158.2 L411.0,158.2 L413.0,158.2 L414.9,158.2 L416.9,158.2 L418.9,158.2 L420.8,158.1 L422.8,158.1 L424.8,158.0 L426.7,158.0 L428.7,157.9 L430.6,157.8 L432.6,157.7 L434.6,157.7 L436.5,157.6 L438.5,157.5 L440.5,157.4 L442.4,157.4 L444.4,157.3 L446.3,157.2 L448.3,157.1 L450.3,157.1 L452.2,157.0 L454.2,156.9 L456.1,156.8 L458.1,156.8 L460.0,156.7 L462.0,156.6 L464.0,156.6 L465.9,156.5 L467.9,156.4 L469.8,156.4 L471.8,156.3 L473.7,156.2 L475.7,156.2 L477.6,156.1 L479.6,156.0 L481.6,156.0 L483.5,155.9 L485.5,155.8 L487.4,155.8 L489.4,155.7 L491.3,155.7 L493.3,155.6 L495.2,155.5 L497.2,155.5 L499.1,155.4 L501.1,155.4 L503.0,155.3 L505.0,155.2 L506.9,155.2 L508.9,155.1 L510.8,155.1 L512.8,155.0 L514.7,155.0 L516.7,154.9 L518.6,154.9 L520.6,154.8 L522.5,154.8 L524.5,154.7 L526.4,154.7 L528.4,154.6 L530.3,154.6 L532.3,154.5 L534.2,154.5 L536.2,154.4 L538.1,154.4 L540.1,154.3 L542.1,154.3 L544.0,154.2 L546.0,154.2 L547.9,154.1 L549.9,154.1 L551.8,154.0 L553.8,154.0 L555.7,154.0 L557.7,153.9 L559.6,153.9 L561.6,153.8 L563.5,153.8 L565.5,153.8 L567.4,153.7 L569.4,153.7 L571.3,153.6 L573.3,153.6 L575.3,153.6 L577.2,153.5 L579.2,153.5 L581.1,153.4 L583.1,153.4 L585.0,153.4 L587.0,153.3 L588.9,153.3 L590.9,153.3 L592.8,153.2 L594.8,153.2 L596.8,153.2 L598.7,153.1 L600.7,153.1 L602.6,153.1 L604.6,153.0 L606.5,153.0 L608.5,153.0 L610.4,152.9 L612.4,152.9 L614.4,152.9 L616.3,152.8 L618.3,152.8 L620.2,152.8 L622.2,152.8 L624.1,152.7 L626.1,152.7 L628.0,152.7 L630.0,152.6 L632.0,152.6 L633.9,152.6 L635.9,152.6 L637.8,152.5 L639.8,152.5 L641.7,152.5 L643.7,152.5 L645.7,152.4 L647.6,152.4 L649.6,152.4 L651.5,152.4 L653.5,152.3 L655.4,152.3 L657.4,152.3 L659.4,152.3 L661.3,152.2 L663.3,152.2 L665.2,152.2 L667.2,152.2 L669.1,152.1 L671.1,152.1 L673.1,152.1 L675.0,152.1 L677.0,152.0 L678.9,152.0 L680.9,152.0 L682.8,152.0 L684.8,152.0 L686.7,151.9 L688.7,151.9 L690.7,151.9 L692.6,151.9 L694.6,151.8 L696.5,151.8 L698.5,151.8 L700.4,151.8 L702.4,151.8 L704.4,151.7 L706.3,151.7 L708.3,151.7 L710.2,151.7 L712.2,151.7 L714.1,151.6 L716.1,151.6 L718.1,151.6 L720.0,151.6 L722.0,151.6 L723.9,151.5 L725.9,151.5 L727.8,151.5 L729.8,151.5 L731.7,151.5 L733.7,151.4 L735.7,151.4 L737.6,151.4 L739.6,151.4 L741.5,151.3 L743.5,151.3 L745.4,151.3 L747.4,151.3 L749.3,151.3 L751.3,151.2 L753.2,151.2 L755.2,151.2 L757.2,151.2 L759.1,151.2 L761.1,151.1 L763.0,151.1 L765.0,151.1 L766.9,151.1 L768.9,151.1 L770.8,151.0 L772.8,151.0 L774.7,151.0 L776.7,151.0 L778.6,151.0 L780.6,150.9 L782.5,150.9 L784.5,150.9 L786.4,150.9 L788.4,150.8 L790.4,150.8 L792.3,150.8 L794.3,150.8 L796.2,150.8 L798.2,150.7 L800.1,150.7 L802.1,150.7 L804.0,150.7 L806.0,150.7 L807.9,150.6 L809.9,150.6 L811.8,150.6 L813.8,150.6 L815.7,150.6 L817.7,150.5 L819.6,150.5 L821.6,150.5 L823.5,150.5 L825.5,150.5 L827.4,150.5 L829.4,150.4 L831.3,150.4 L833.3,150.4 L835.2,150.4 L837.2,150.4 L839.1,150.4 L841.1,150.3 L843.0,150.3 L845.0,150.3 L846.9,150.3 L848.9,150.3 L850.9,150.3 L852.8,150.3 L854.8,150.3 L856.7,150.2 L858.7,150.2 L860.6,150.2 L862.6,150.2 L864.5,150.2 L866.5,150.2 L868.4,150.2 L870.4,150.2 L872.3,150.2 L874.3,150.2 L876.2,150.2 L878.2,150.2 L880.1,150.1 L882.1,150.1 L884.0,150.1 L886.0,150.1 L888.0,150.1 L889.9,150.1 L891.9,150.1 L893.8,150.1 L895.8,150.1 L897.7,150.1 L899.7,150.1 L901.6,150.1 L903.6,150.1 L905.5,150.2 L907.5,150.2 L909.5,150.2 L911.4,150.2 L913.4,150.2 L915.3,150.2 L917.3,150.2 L919.2,150.2 L921.2,150.2 L923.1,150.2 L925.1,150.3 L927.1,150.3 L929.0,150.3 L931.0,150.3 L932.9,150.3 L934.9,150.3 L936.9,150.4 L938.8,150.4 L940.8,150.4 L942.7,150.4 L944.7,150.4 L946.6,150.5 L948.6,150.5 L950.6,150.5 L952.5,150.5 L954.5,150.6 L956.4,150.6 L958.4,150.6 L960.4,150.7 L962.3,150.7 L964.3,150.7 L966.3,150.8 L968.2,150.8 L970.2,150.8 L972.1,150.9 L974.1,150.9 L976.1,151.0 L978.0,151.0 L980.0,151.1 L982.0,151.1 L983.9,151.1 L985.9,151.2 L987.9,151.2 L989.8,151.3 L991.8,151.4 L993.8,151.4 L995.7,151.5 L997.7,151.5 L999.7,151.6 L1001.6,151.7 L1003.6,151.7 L1005.6,151.8 L1007.5,151.9 L1009.5,152.0 L1011.4,152.1 L1013.4,152.2 L1015.4,152.3 L1017.3,152.4 L1019.3,152.6 L1021.2,152.7 L1023.2,152.9 L1025.1,153.0 L1027.1,153.2 L1029.0,153.4 L1030.9,153.6 L1032.9,153.8 L1034.8,154.0 L1036.7,154.2 L1038.7,154.5 L1040.6,154.7 L1042.5,155.0 L1044.4,155.3 L1046.3,155.6 L1048.2,155.9 L1050.1,156.2 L1052.0,156.6 L1053.9,157.0 L1055.8,157.3 L1057.7,157.7 L1059.6,158.2 L1061.4,158.6 L1063.3,159.1 L1065.2,159.6 L1067.0,160.1 L1068.9,160.6 L1070.7,161.2 L1072.5,161.7 L1074.4,162.3 L1076.2,162.9 L1078.0,163.6 L1079.8,164.2 L1081.6,164.9 L1083.4,165.6 L1085.2,166.4 L1087.0,167.2 L1088.8,168.0 L1090.5,168.8 L1092.3,169.6 L1094.0,170.5 L1095.8,171.4 L1097.5,172.3 L1099.2,173.3 L1100.9,174.3 L1102.6,175.3 L1104.3,176.3 L1106.0,177.4 L1107.6,178.5 L1109.3,179.6 L1110.9,180.7 L1112.5,181.9 L1114.2,183.1 L1115.7,184.3 L1117.3,185.5 L1118.9,186.8 L1120.4,188.1 L1121.9,189.3 L1123.4,190.7 L1124.9,192.0 L1126.3,193.4 L1127.8,194.7 L1129.2,196.1 L1130.6,197.5 L1131.9,199.0 L1133.3,200.4 L1134.6,201.9 L1135.9,203.4 L1137.1,204.9 L1138.4,206.4 L1139.6,207.9 L1140.8,209.4 L1141.9,211.0 L1143.1,212.6 L1144.2,214.1 L1145.3,215.7 L1146.4,217.4 L1147.4,219.0 L1148.5,220.6 L1149.5,222.2 L1150.5,223.9 L1151.5,225.6 L1152.5,227.2 L1153.5,228.9 L1154.4,230.6 L1155.3,232.3 L1156.3,234.0 L1157.2,235.7 L1158.1,237.4 L1159.0,239.2 L1159.9,240.9 L1160.7,242.6 L1161.6,244.4 L1162.5,246.1 L1163.3,247.8 L1164.2,249.6 L1165.1,251.3 L1165.9,253.1 L1166.8,254.8 L1167.6,256.6 L1168.4,258.4 L1169.3,260.1 L1170.1,261.9 L1170.9,263.6 L1171.8,265.4 L1172.6,267.2 L1173.4,269.0 L1174.2,270.7 L1175.0,272.5 L1175.8,274.3 L1176.6,276.1 L1177.4,277.8 L1178.2,279.6 L1179.0,281.4 L1179.8,283.2 L1180.6,285.0 L1181.4,286.8 L1182.2,288.6 L1182.9,290.4 L1183.7,292.2 L1184.5,294.0 L1185.2,295.8 L1186.0,297.6 L1186.8,299.4 L1187.5,301.2 L1188.3,303.0 L1189.0,304.8 L1189.8,306.6 L1190.5,308.4 L1191.2,310.2 L1192.0,312.1 L1192.7,313.9 L1193.4,315.7 L1194.1,317.5 L1194.8,319.3 L1195.5,321.2 L1196.2,323.0 L1196.9,324.8 L1197.6,326.6 L1198.3,328.5 L1199.0,330.3 L1199.7,332.1 L1200.4,334.0 L1201.1,335.8 L1201.8,337.7 L1202.4,339.5 L1203.1,341.3 L1203.8,343.2 L1204.4,345.0 L1205.1,346.9 L1205.7,348.7 L1206.4,350.6 L1207.0,352.4 L1207.6,354.3 L1208.3,356.1 L1208.9,358.0 L1209.5,359.8 L1210.2,361.7 L1210.8,363.5 L1211.4,365.4 L1212.0,367.2 L1212.6,369.1 L1213.2,371.0 L1213.8,372.8 L1214.4,374.7 L1215.0,376.5 L1215.6,378.4 L1216.2,380.3 L1216.8,382.1 L1217.4,384.0 L1218.0,385.9 L1218.5,387.7 L1219.1,389.6 L1219.7,391.5 L1220.3,393.3 L1220.8,395.2 L1221.4,397.1 L1222.0,398.9 L1222.5,400.8 L1223.1,402.7 L1223.6,404.6 L1224.2,406.4 L1224.8,408.3 L1225.3,410.2 L1225.9,412.1 L1226.4,413.9 L1227.0,415.8 L1227.5,417.7 L1228.1,419.6 L1228.6,421.4 L1229.2,423.3 L1229.7,425.2 L1230.3,427.1 L1230.8,428.9 L1231.4,430.8 L1231.9,432.7 L1232.5,434.6 L1233.0,436.4 L1233.6,438.3 L1234.1,440.2 L1234.7,442.1 L1235.2,443.9 L1235.8,445.8 L1236.3,447.7 L1236.8,449.6 L1237.4,451.4 L1238.0,453.3 L1238.5,455.2 L1239.1,457.1 L1239.6,458.9 L1240.2,460.8 L1240.7,462.7 L1241.3,464.6 L1241.8,466.4 L1242.4,468.3 L1243.0,470.2 L1243.5,472.0 L1244.1,473.9 L1244.7,475.8 L1245.2,477.7 L1245.8,479.5 L1246.4,481.4 L1246.9,483.3 L1247.5,485.1 L1248.1,487.0 L1248.7,488.9 L1249.2,490.7 L1249.8,492.6 L1250.4,494.5 L1251.0,496.3 L1251.5,498.2 L1252.1,500.1 L1252.7,501.9 L1253.3,503.8 L1253.9,505.7 L1254.4,507.5 L1255.0,509.4 L1255.6,511.3 L1256.2,513.1 L1256.8,515.0 L1257.4,516.9 L1257.9,518.7 L1258.5,520.6 L1259.1,522.5 L1259.7,524.3 L1260.3,526.2 L1260.9,528.0 L1261.5,529.9 L1262.1,531.8 L1262.7,533.6 L1263.2,535.5 L1263.8,537.4 L1264.4,539.2 L1265.0,541.1 L1265.6,543.0 L1266.2,544.8 L1266.8,546.7 L1267.4,548.5 L1268.0,550.4 L1268.6,552.3 L1269.2,554.1 L1269.8,556.0 L1270.4,557.9 L1271.0,559.7 L1271.6,561.6 L1272.2,563.4 L1272.8,565.3 L1273.4,567.2 L1273.9,569.0 L1274.5,570.9 L1275.1,572.8 L1275.7,574.6 L1276.3,576.5 L1276.9,578.3 L1277.5,580.2 L1278.1,582.1 L1278.7,583.9 L1279.3,585.8 L1279.9,587.7 L1280.5,589.5 L1281.1,591.4 L1281.7,593.2 L1282.3,595.1 L1282.9,597.0 L1283.6,598.8 L1284.2,600.7 L1284.8,602.5 L1285.4,604.4 L1286.0,606.3 L1286.6,608.1 L1287.2,610.0 L1287.8,611.8 L1288.4,613.7 L1289.0,615.5 L1289.6,617.4 L1290.3,619.3 L1290.9,621.1 L1291.5,623.0 L1292.1,624.8 L1292.7,626.7 L1293.4,628.5 L1294.0,630.4 L1294.6,632.2 L1295.2,634.1 L1295.9,635.9 L1296.5,637.8 L1297.1,639.6 L1297.7,641.5 L1298.4,643.3 L1299.0,645.2 L1299.6,647.0 L1300.3,648.9 L1300.9,650.7 L1301.6,652.6 L1302.2,654.4 L1302.8,656.3 L1303.5,658.1 L1304.1,660.0 L1304.8,661.8 L1305.4,663.6 L1306.1,665.5 L1306.7,667.3 L1307.4,669.2 L1308.1,671.0 L1308.8,672.8 L1309.5,674.6 L1310.2,676.4 L1311.0,678.2 L1311.8,680.0 L1312.6,681.8 L1313.5,683.5 L1314.5,685.2 L1315.5,686.9 L1316.5,688.5 L1317.6,690.2 L1318.8,691.8 L1320.0,693.3 L1321.2,694.9 L1322.5,696.4 L1323.9,697.8 L1325.3,699.2 L1326.8,700.5 L1328.3,701.7 L1329.8,702.9 L1331.4,703.9 L1333.1,704.9 L1334.8,705.8 L1336.6,706.5 L1338.4,707.2 L1340.2,707.7 L1342.1,708.1 L1344.0,708.4 L1346.0,708.6 L1347.9,708.7 L1349.9,708.8 L1351.9,708.9 L1353.9,708.8 L1355.9,708.8 L1357.9,708.8 L1359.9,708.8 L1361.8,708.8 L1363.8,708.7 L1365.7,708.7 L1367.7,708.7 L1369.6,708.7 L1371.5,708.7 L1373.5,708.7 L1375.4,708.7 L1377.4,708.7 L1379.3,708.7 L1381.3,708.6 L1383.2,708.6 L1385.2,708.6 L1387.1,708.6 L1389.1,708.6 L1391.1,708.6 L1393.0,708.6 L1395.0,708.6 L1396.9,708.6 L1398.9,708.6 L1400.8,708.6 L1402.8,708.6 L1404.8,708.6 L1406.7,708.6 L1408.7,708.6 L1410.6,708.6 L1412.6,708.5 L1414.5,708.5 L1416.5,708.5 L1418.4,708.5 L1420.4,708.5 L1422.4,708.5 L1424.3,708.5 L1426.3,708.5 L1428.2,708.5 L1430.2,708.5 L1432.1,708.5 L1434.1,708.5 L1436.0,708.5 L1438.0,708.5 L1440.0,708.5 L1441.9,708.5 L1443.9,708.5 L1445.8,708.5 L1447.8,708.5 L1449.7,708.5 L1451.7,708.5 L1453.6,708.4 L1455.6,708.4 L1457.5,708.4 L1459.5,708.4 L1461.5,708.4 L1463.4,708.4 L1465.4,708.4 L1467.3,708.4 L1469.3,708.4 L1471.2,708.4 L1473.2,708.4 L1475.1,708.4 L1477.1,708.4 L1479.1,708.4 L1481.0,708.4 L1483.0,708.4 L1484.9,708.3 L1486.9,708.3 L1488.8,708.3 L1490.8,708.3 L1492.7,708.3 L1494.7,708.3 L1496.6,708.3 L1498.6,708.3 L1500.6,708.3 L1502.5,708.3 L1504.5,708.3 L1506.4,708.2 L1508.4,708.2 L1510.3,708.2 L1512.3,708.2 L1514.2,708.2 L1516.2,708.2 L1518.1,708.2 L1520.1,708.2 L1522.1,708.2 L1524.0,708.1 L1526.0,708.1 L1527.9,708.1 L1529.9,708.1 L1531.8,708.1 L1533.8,708.1 L1535.7,708.1 L1537.7,708.0 L1539.6,708.0 L1541.6,708.0 L1543.6,708.0 L1545.5,708.0 L1547.5,708.0 L1549.4,708.0 L1551.4,707.9 L1553.3,707.9 L1555.3,707.9 L1557.2,707.9 L1559.2,707.9 L1561.2,707.9 L1563.1,707.9 L1565.1,707.8 L1567.0,707.8 L1569.0,707.8 L1570.9,707.8 L1572.9,707.8 L1574.8,707.8 L1576.8,707.7 L1578.7,707.7 L1580.7,707.7 L1582.7,707.7 L1584.6,707.7 L1586.6,707.6 L1588.5,707.6 L1590.5,707.6 L1592.4,707.6 L1594.4,707.6 L1596.3,707.6 L1598.3,707.5 L1600.3,707.5 L1602.2,707.5 L1604.2,707.5 L1606.1,707.5 L1608.1,707.5 L1610.0,707.4 L1612.0,707.4 L1613.9,707.4 L1615.9,707.4 L1617.8,707.4 L1619.8,707.3 L1621.8,707.3 L1623.7,707.3 L1625.7,707.3 L1627.6,707.3 L1629.6,707.3 L1631.5,707.2 L1633.5,707.2 L1635.4,707.2 L1637.4,707.2 L1639.4,707.2 L1641.3,707.1 L1643.3,707.1 L1645.2,707.1 L1647.2,707.1 L1649.1,707.1 L1651.1,707.1 L1653.0,707.0 L1655.0,707.0 L1656.9,707.0 L1658.9,707.0 L1660.9,707.0 L1662.8,707.0 L1664.8,706.9 L1666.7,706.9 L1668.7,706.9 L1670.6,706.9 L1672.6,706.9 L1674.5,706.9 L1676.5,706.8 L1678.4,706.8 L1680.4,706.8 L1682.4,706.8 L1684.3,706.8 L1686.3,706.8 L1688.2,706.7 L1690.2,706.7 L1692.1,706.7 L1694.1,706.7 L1696.0,706.7 L1698.0,706.7 L1700.0,706.7 L1701.9,706.6 L1703.9,706.6 L1705.8,706.6 L1707.8,706.6 L1709.7,706.6 L1711.7,706.6 L1713.6,706.6 L1715.6,706.5 L1717.5,706.5 L1719.5,706.5"/>
<path stroke="#0000ff" d="M288.5,142.3 L290.3,141.5 L292.0,140.8 L293.8,140.1 L295.6,139.4 L297.5,138.8 L299.3,138.3 L301.1,137.8 L303.0,137.3 L304.9,136.9 L306.8,136.5 L308.6,136.1 L310.5,135.7 L312.5,135.4 L314.4,135.1 L316.3,134.9 L318.2,134.7 L320.2,134.5 L322.1,134.3 L324.1,134.1 L326.0,133.9 L328.0,133.8 L330.0,133.7 L331.9,133.6 L333.9,133.5 L335.9,133.4 L337.8,133.3 L339.8,133.2 L341.8,133.2 L343.8,133.1 L345.7,133.0 L347.7,132.9 L349.7,132.8 L351.7,132.8 L353.6,132.7 L355.6,132.6 L357.6,132.5 L359.5,132.4 L361.5,132.3 L363.4,132.2 L365.4,132.1 L367.4,132.0 L369.3,131.9 L371.3,131.8 L373.2,131.7 L375.2,131.5 L377.1,131.4 L379.1,131.3 L381.1,131.2 L383.0,131.1 L385.0,131.0 L386.9,130.8 L388.9,130.7 L390.8,130.6 L392.8,130.5 L394.7,130.4 L396.7,130.3 L398.6,130.1 L400.6,130.0 L402.5,129.9 L404.5,129.8 L406.4,129.7 L408.4,129.6 L410.3,129.5 L412.3,129.3 L414.2,129.2 L416.2,129.1 L418.2,129.0 L420.1,128.9 L422.1,128.8 L424.0,128.7 L426.0,128.6 L427.9,128.5 L429.9,128.4 L431.8,128.3 L433.8,128.2 L435.8,128.1 L437.7,128.0 L439.7,127.9 L441.6,127.8 L443.6,127.7 L445.5,127.6 L447.5,127.5 L449.4,127.4 L451.4,127.3 L453.4,127.2 L455.3,127.1 L457.3,127.0 L459.2,126.9 L461.2,126.8 L463.1,126.7 L465.1,126.7 L467.1,126.6 L469.0,126.5 L471.0,126.4 L472.9,126.3 L474.9,126.2 L476.9,126.1 L478.8,126.0 L480.8,125.9 L482.7,125.8 L484.7,125.7 L486.6,125.7 L488.6,125.6 L490.6,125.5 L492.5,125.4 L494.5,125.3 L496.4,125.2 L498.4,125.1 L500.4,125.0 L502.3,124.9 L504.3,124.8 L506.2,124.8 L508.2,124.7 L510.1,124.6 L512.1,124.5 L514.1,124.4 L516.0,124.3 L518.0,124.2 L519.9,124.1 L521.9,124.0 L523.9,123.9 L525.8,123.8 L527.8,123.7 L529.7,123.7 L531.7,123.6 L533.6,123.5 L535.6,123.4 L537.6,123.3 L539.5,123.2 L541.5,123.1 L543.4,123.0 L545.4,122.9 L547.4,122.8 L549.3,122.7 L551.3,122.6 L553.2,122.5 L555.2,122.4 L557.1,122.3 L559.1,122.3 L561.1,122.2 L563.0,122.1 L565.0,122.0 L566.9,121.9 L568.9,121.8 L570.8,121.7 L572.8,121.6 L574.8,121.5 L576.7,121.4 L578.7,121.3 L580.6,121.2 L582.6,121.1 L584.6,121.0 L586.5,120.9 L588.5,120.8 L590.4,120.7 L592.4,120.6 L594.3,120.5 L596.3,120.4 L598.3,120.3 L600.2,120.2 L602.2,120.1 L604.1,120.0 L606.1,119.9 L608.0,119.8 L610.0,119.7 L612.0,119.6 L613.9,119.6 L615.9,119.5 L617.8,119.4 L619.8,119.3 L621.7,119.2 L623.7,119.1 L625.7,119.0 L627.6,118.9 L629.6,118.8 L631.5,118.7 L633.5,118.6 L635.4,118.5 L637.4,118.4 L639.4,118.3 L641.3,118.2 L643.3,118.1 L645.2,118.0 L647.2,117.9 L649.1,117.8 L651.1,117.7 L653.1,117.6 L655.0,117.5 L657.0,117.4 L658.9,117.3 L660.9,117.2 L662.8,117.1 L664.8,117.0 L666.8,116.9 L668.7,116.8 L670.7,116.7 L672.6,116.6 L674.6,116.5 L676.5,116.4 L678.5,116.2 L680.4,116.1 L682.4,116.0 L684.4,115.9 L686.3,115.8 L688.3,115.7 L690.2,115.6 L692.2,115.5 L694.1,115.4 L696.1,115.3 L698.1,115.2 L700.0,115.1 L702.0,115.0 L703.9,114.9 L705.9,114.8 L707.8,114.7 L709.8,114.6 L711.8,114.5 L713.7,114.4 L715.7,114.3 L717.6,114.2 L719.6,114.1 L721.5,114.0 L723.5,113.9 L725.5,113.8 L727.4,113.7 L729.4,113.6 L731.3,113.5 L733.3,113.4 L735.2,113.3 L737.2,113.2 L739.2,113.1 L741.1,113.0 L743.1,112.9 L745.0,112.8 L747.0,112.7 L748.9,112.5 L750.9,112.4 L752.9,112.3 L754.8,112.2 L756.8,112.1 L758.7,112.0 L760.7,111.9 L762.6,111.8 L764.6,111.7 L766.5,111.6 L768.5,111.5 L770.5,111.4 L772.4,111.3 L774.4,111.2 L776.3,111.1 L778.3,111.0 L780.2,110.9 L782.2,110.8 L784.2,110.7 L786.1,110.6 L788.1,110.5 L790.0,110.4 L792.0,110.3 L793.9,110.2 L795.9,110.1 L797.9,110.0 L799.8,109.9 L801.8,109.8 L803.7,109.7 L805.7,109.7 L807.6,109.6 L809.6,109.5 L811.6,109.4 L813.5,109.3 L815.5,109.2 L817.4,109.1 L819.4,109.0 L821.3,108.9 L823.3,108.8 L825.3,108.7 L827.2,108.6 L829.2,108.6 L831.1,108.5 L833.1,108.4 L835.1,108.3 L837.0,108.2 L839.0,108.1 L840.9,108.0 L842.9,108.0 L844.8,107.9 L846.8,107.8 L848.8,107.7 L850.7,107.6 L852.7,107.6 L854.6,107.5 L856.6,107.4 L858.5,107.3 L860.5,107.3 L862.5,107.2 L864.4,107.1 L866.4,107.0 L868.3,107.0 L870.3,106.9 L872.3,106.8 L874.2,106.8 L876.2,106.7 L878.1,106.6 L880.1,106.6 L882.1,106.5 L884.0,106.4 L886.0,106.4 L887.9,106.3 L889.9,106.2 L891.8,106.2 L893.8,106.1 L895.8,106.1 L897.7,106.0 L899.7,106.0 L901.6,105.9 L903.6,105.9 L905.6,105.8 L907.5,105.8 L909.5,105.7 L911.4,105.7 L913.4,105.6 L915.4,105.6 L917.3,105.5 L919.3,105.5 L921.2,105.4 L923.2,105.4 L925.2,105.4 L927.1,105.3 L929.1,105.3 L931.0,105.2 L933.0,105.2 L935.0,105.2 L936.9,105.2 L938.9,105.1 L940.8,105.1 L942.8,105.1 L944.8,105.0 L946.7,105.0 L948.7,105.0 L950.7,105.0 L952.6,105.0 L954.6,104.9 L956.5,104.9 L958.5,104.9 L960.5,104.9 L962.4,104.9 L964.4,104.9 L966.3,104.9 L968.3,104.9 L970.3,104.9 L972.2,104.9 L974.2,104.9 L976.1,104.9 L978.1,105.0 L980.1,105.0 L982.0,105.0 L984.0,105.0 L985.9,105.1 L987.9,105.1 L989.9,105.2 L991.8,105.2 L993.8,105.3 L995.7,105.3 L997.7,105.4 L999.6,105.5 L1001.6,105.5 L1003.6,105.6 L1005.5,105.7 L1007.5,105.8 L1009.4,105.9 L1011.4,106.0 L1013.3,106.2 L1015.3,106.3 L1017.2,106.4 L1019.2,106.6 L1021.1,106.7 L1023.1,106.9 L1025.0,107.0 L1027.0,107.2 L1028.9,107.4 L1030.9,107.6 L1032.8,107.8 L1034.8,108.0 L1036.7,108.2 L1038.7,108.4 L1040.6,108.7 L1042.5,108.9 L1044.5,109.2 L1046.4,109.4 L1048.4,109.7 L1050.3,110.0 L1052.2,110.3 L1054.2,110.6 L1056.1,110.9 L1058.0,111.2 L1060.0,111.6 L1061.9,111.9 L1063.8,112.3 L1065.7,112.7 L1067.7,113.1 L1069.6,113.5 L1071.5,113.9 L1073.4,114.3 L1075.3,114.8 L1077.3,115.2 L1079.2,115.7 L1081.1,116.2 L1083.0,116.7 L1084.9,117.2 L1086.7,117.8 L1088.6,118.3 L1090.5,118.9 L1092.4,119.5 L1094.2,120.1 L1096.1,120.8 L1098.0,121.4 L1099.8,122.1 L1101.6,122.8 L1103.5,123.5 L1105.3,124.2 L1107.1,125.0 L1108.9,125.7 L1110.7,126.5 L1112.5,127.3 L1114.3,128.2 L1116.1,129.0 L1117.8,129.9 L1119.6,130.8 L1121.3,131.8 L1123.0,132.7 L1124.8,133.7 L1126.5,134.7 L1128.1,135.7 L1129.8,136.8 L1131.4,137.8 L1133.1,138.9 L1134.7,140.0 L1136.3,141.2 L1137.9,142.3 L1139.4,143.5 L1141.0,144.7 L1142.5,145.9 L1144.0,147.2 L1145.4,148.5 L1146.9,149.8 L1148.3,151.1 L1149.7,152.4 L1151.1,153.8 L1152.4,155.2 L1153.7,156.6 L1155.0,158.1 L1156.3,159.5 L1157.5,161.0 L1158.7,162.5 L1159.9,164.1 L1161.1,165.6 L1162.2,167.2 L1163.3,168.8 L1164.4,170.4 L1165.5,172.0 L1166.5,173.7 L1167.6,175.3 L1168.6,177.0 L1169.6,178.7 L1170.6,180.4 L1171.5,182.1 L1172.5,183.8 L1173.4,185.6 L1174.3,187.3 L1175.2,189.1 L1176.2,190.8 L1177.0,192.6 L1177.9,194.3 L1178.8,196.1 L1179.7,197.9 L1180.5,199.7 L1181.4,201.5 L1182.2,203.3 L1183.1,205.1 L1183.9,206.8 L1184.8,208.6 L1185.6,210.4 L1186.5,212.2 L1187.3,214.0 L1188.1,215.8 L1189.0,217.5 L1189.8,219.3 L1190.6,221.1 L1191.5,222.9 L1192.3,224.7 L1193.1,226.4 L1193.9,228.2 L1194.7,230.0 L1195.6,231.8 L1196.4,233.6 L1197.2,235.3 L1198.0,237.1 L1198.8,238.9 L1199.6,240.7 L1200.3,242.5 L1201.1,244.3 L1201.9,246.0 L1202.6,247.8 L1203.4,249.6 L1204.2,251.4 L1204.9,253.2 L1205.6,255.0 L1206.4,256.9 L1207.1,258.7 L1207.8,260.5 L1208.5,262.3 L1209.2,264.1 L1209.9,265.9 L1210.6,267.8 L1211.2,269.6 L1211.9,271.4 L1212.6,273.3 L1213.2,275.1 L1213.9,277.0 L1214.5,278.8 L1215.1,280.7 L1215.8,282.5 L1216.4,284.4 L1217.0,286.3 L1217.6,288.1 L1218.2,290.0 L1218.8,291.9 L1219.4,293.7 L1220.0,295.6 L1220.5,297.5 L1221.1,299.4 L1221.7,301.2 L1222.2,303.1 L1222.8,305.0 L1223.4,306.9 L1223.9,308.8 L1224.5,310.7 L1225.0,312.5 L1225.5,314.4 L1226.1,316.3 L1226.6,318.2 L1227.1,320.1 L1227.6,322.0 L1228.2,323.9 L1228.7,325.8 L1229.2,327.7 L1229.7,329.6 L1230.2,331.5 L1230.7,333.4 L1231.2,335.3 L1231.7,337.2 L1232.2,339.1 L1232.7,341.0 L1233.2,342.9 L1233.7,344.8 L1234.1,346.7 L1234.6,348.6 L1235.1,350.6 L1235.6,352.5 L1236.1,354.4 L1236.6,356.3 L1237.0,358.2 L1237.5,360.1 L1238.0,362.0 L1238.5,363.9 L1238.9,365.8 L1239.4,367.7 L1239.9,369.6 L1240.4,371.5 L1240.8,373.4 L1241.3,375.3 L1241.8,377.2 L1242.3,379.1 L1242.7,381.0 L1243.2,382.8 L1243.7,384.7 L1244.2,386.6 L1244.6,388.5 L1245.1,390.4 L1245.6,392.3 L1246.0,394.2 L1246.5,396.1 L1247.0,398.0 L1247.4,399.9 L1247.9,401.8 L1248.4,403.7 L1248.8,405.6 L1249.3,407.5 L1249.8,409.4 L1250.2,411.3 L1250.7,413.2 L1251.2,415.1 L1251.6,417.0 L1252.1,418.8 L1252.6,420.7 L1253.0,422.6 L1253.5,424.5 L1253.9,426.4 L1254.4,428.3 L1254.9,430.2 L1255.3,432.1 L1255.8,434.0 L1256.2,435.9 L1256.7,437.8 L1257.2,439.7 L1257.6,441.6 L1258.1,443.5 L1258.5,445.4 L1259.0,447.3 L1259.4,449.3 L1259.9,451.2 L1260.3,453.1 L1260.8,455.0 L1261.3,456.9 L1261.7,458.8 L1262.2,460.7 L1262.6,462.6 L1263.1,464.5 L1263.5,466.4 L1264.0,468.4 L1264.4,470.3 L1264.9,472.2 L1265.3,474.1 L1265.8,476.0 L1266.2,478.0 L1266.7,479.9 L1267.1,481.8 L1267.6,483.7 L1268.0,485.7 L1268.5,487.6 L1269.0,489.5 L1269.4,491.4 L1269.9,493.3 L1270.4,495.3 L1270.8,497.2 L1271.3,499.1 L1271.8,501.0 L1272.3,502.9 L1272.8,504.8 L1273.3,506.7 L1273.8,508.6 L1274.3,510.5 L1274.8,512.5 L1275.3,514.3 L1275.9,516.2 L1276.4,518.1 L1277.0,520.0 L1277.5,521.9 L1278.1,523.8 L1278.7,525.7 L1279.2,527.6 L1279.8,529.4 L1280.4,531.3 L1281.1,533.2 L1281.7,535.0 L1282.3,536.9 L1282.9,538.7 L1283.6,540.6 L1284.3,542.4 L1284.9,544.2 L1285.6,546.1 L1286.3,547.9 L1287.0,549.7 L1287.8,551.5 L1288.5,553.3 L1289.3,555.1 L1290.0,556.9 L1290.8,558.7 L1291.6,560.5 L1292.4,562.2 L1293.3,564.0 L1294.1,565.7 L1295.0,567.5 L1295.8,569.2 L1296.7,571.0 L1297.6,572.7 L1298.6,574.4 L1299.5,576.1 L1300.5,577.8 L1301.5,579.5 L1302.5,581.2 L1303.5,582.8 L1304.6,584.5 L1305.6,586.2 L1306.7,587.8 L1307.9,589.5 L1309.0,591.1 L1310.0,592.7 L1311.1,594.3 L1312.1,595.9 L1313.3,597.4 L1314.6,598.8 L1316.0,600.2 L1317.5,601.5 L1319.1,602.7 L1320.7,603.8 L1322.5,604.8 L1324.2,605.7 L1326.1,606.5 L1327.9,607.2 L1329.8,607.8 L1331.7,608.2 L1333.6,608.5 L1335.5,608.8 L1337.4,609.0 L1339.4,609.2 L1341.3,609.3 L1343.3,609.4 L1345.2,609.5 L1347.2,609.6 L1349.1,609.6 L1351.1,609.7 L1353.0,609.7 L1355.0,609.7 L1356.9,609.7 L1358.9,609.7 L1360.9,609.7 L1362.8,609.6 L1364.8,609.6 L1366.8,609.6 L1368.7,609.5 L1370.7,609.5 L1372.7,609.5 L1374.6,609.5 L1376.6,609.4 L1378.6,609.4 L1380.5,609.4 L1382.5,609.4 L1384.4,609.4 L1386.4,609.3 L1388.4,609.3 L1390.3,609.3 L1392.3,609.3 L1394.2,609.3 L1396.2,609.2 L1398.1,609.2 L1400.1,609.2 L1402.1,609.2 L1404.0,609.1 L1406.0,609.1 L1407.9,609.1 L1409.9,609.1 L1411.9,609.0 L1413.8,609.0 L1415.8,609.0 L1417.7,608.9 L1419.7,608.9 L1421.6,608.9 L1423.6,608.8 L1425.6,608.8 L1427.5,608.8 L1429.5,608.7 L1431.4,608.7 L1433.4,608.7 L1435.4,608.6 L1437.3,608.6 L1439.3,608.5 L1441.2,608.5 L1443.2,608.5 L1445.2,608.4 L1447.1,608.4 L1449.1,608.3 L1451.0,608.3 L1453.0,608.3 L1455.0,608.2 L1456.9,608.2 L1458.9,608.1 L1460.8,608.1 L1462.8,608.0 L1464.8,608.0 L1466.7,608.0 L1468.7,607.9 L1470.6,607.9 L1472.6,607.8 L1474.5,607.8 L1476.5,607.8 L1478.5,607.7 L1480.4,607.7 L1482.4,607.6 L1484.3,607.6 L1486.3,607.6 L1488.3,607.5 L1490.2,607.5 L1492.2,607.4 L1494.1,607.4 L1496.1,607.4 L1498.1,607.3 L1500.0,607.3 L1502.0,607.3 L1503.9,607.2 L1505.9,607.2 L1507.9,607.2 L1509.8,607.1 L1511.8,607.1 L1513.7,607.1 L1515.7,607.0 L1517.7,607.0 L1519.6,607.0 L1521.6,606.9 L1523.5,606.9 L1525.5,606.9 L1527.5,606.9 L1529.4,606.8 L1531.4,606.8 L1533.3,606.8 L1535.3,606.8 L1537.3,606.7 L1539.2,606.7 L1541.2,606.7 L1543.1,606.7 L1545.1,606.6 L1547.1,606.6 L1549.0,606.6 L1551.0,606.6 L1552.9,606.5 L1554.9,606.5 L1556.8,606.5 L1558.8,606.5 L1560.8,606.5 L1562.7,606.4 L1564.7,606.4 L1566.6,606.4 L1568.6,606.4 L1570.6,606.4 L1572.5,606.4 L1574.5,606.3 L1576.4,606.3 L1578.4,606.3 L1580.4,606.3 L1582.3,606.3 L1584.3,606.3 L1586.2,606.2 L1588.2,606.2 L1590.2,606.2 L1592.1,606.2 L1594.1,606.2 L1596.0,606.2 L1598.0,606.2 L1600.0,606.1 L1601.9,606.1 L1603.9,606.1 L1605.8,606.1 L1607.8,606.1 L1609.8,606.1 L1611.7,606.1 L1613.7,606.1 L1615.6,606.0 L1617.6,606.0 L1619.6,606.0 L1621.5,606.0 L1623.5,606.0 L1625.4,606.0 L1627.4,606.0 L1629.4,605.9 L1631.3,605.9 L1633.3,605.9 L1635.2,605.9 L1637.2,605.9 L1639.2,605.9 L1641.1,605.9 L1643.1,605.9 L1645.0,605.8 L1647.0,605.8 L1649.0,605.8 L1650.9,605.8 L1652.9,605.8 L1654.8,605.8 L1656.8,605.8 L1658.8,605.7 L1660.7,605.7 L1662.7,605.7 L1664.6,605.7 L1666.6,605.7 L1668.5,605.7 L1670.5,605.7 L1672.5,605.6 L1674.4,605.6 L1676.4,605.6 L1678.3,605.6 L1680.3,605.6 L1682.3,605.6 L1684.2,605.5 L1686.2,605.5 L1688.1,605.5 L1690.1,605.5 L1692.1,605.5 L1694.0,605.4 L1696.0,605.4 L1697.9,605.4 L1699.9,605.4 L1701.9,605.4 L1703.8,605.3 L1705.8,605.3 L1707.7,605.3 L1709.7,605.3 L1711.7,605.3 L1713.6,605.2 L1715.6,605.2 L1717.5,605.2 L1719.5,605.2"/>
</g>
<g stroke="#000" fill="none" stroke-dasharray="5 2" shape-rendering="crispEdges">
<line x1="347.5" y1="135.5" x2="347.5" y2="497.9" stroke-width="3.0"/>
<line x1="348.5" y1="517.9" x2="1369.0" y2="517.9" stroke-width="2.0"/>
<line x1="336.0" y1="142.0" x2="336.0" y2="589.6" stroke-width="2.0"/>
<line x1="337.0" y1="609.6" x2="1358.8" y2="609.6" stroke-width="2.9"/>
<line x1="324.0" y1="146.0" x2="324.0" y2="646.1" stroke-width="2.0"/>
<line x1="325.0" y1="666.1" x2="1339.5" y2="666.1" stroke-width="2.0"/>
<line x1="312.5" y1="145.0" x2="312.5" y2="692.4" stroke-width="3.0"/>
<line x1="313.5" y1="712.4" x2="1395.5" y2="712.4" stroke-width="2.8"/>
</g>
<polygon points="336.8,489.9 358.2,489.9 349.4,518.8 345.6,518.8" fill="#000" shape-rendering="crispEdges"/>
<polygon points="325.4,578.2 346.8,578.2 338.0,606.8 334.2,606.8" fill="#000" shape-rendering="crispEdges"/>
<polygon points="313.7,638.0 335.1,638.0 326.3,666.8 322.5,666.8" fill="#000" shape-rendering="crispEdges"/>
<polygon points="301.8,683.0 323.2,683.0 314.4,713.6 310.6,713.6" fill="#000" shape-rendering="crispEdges"/>
<text transform="translate(364.8,511.0) scale(1,1.04)" font-size="53">-36.5 %</text>
<text transform="translate(364.8,600.5) scale(1,1.04)" font-size="53">-45.9 %</text>
<text transform="translate(364.8,657.5) scale(1,1.04)" font-size="53">-51.4 %</text>
<text transform="translate(364.8,708.5) scale(1,1.04)" font-size="53">-56.0 %</text>
<line x1="313.2" y1="811.1" x2="434.3" y2="811.1" stroke="#000000" stroke-width="9.4" stroke-linecap="round" shape-rendering="crispEdges"/>
<text transform="translate(452.4,830.1) scale(1,1.04)" font-size="62.3">Ni/SiO<tspan font-size="35.5">2</tspan>-0/0:</text>
<text transform="translate(816.0,830.1) scale(1,1.04)" font-size="53">2.7 mg<tspan font-size="32.9">carbon deposits</tspan></text>
<text transform="translate(1252.3,830.1) scale(1,1.04)" font-size="53">g<tspan font-size="33.4">CH4</tspan></text>
<text transform="translate(1351.0,799.8) scale(1,1.04)" font-size="32" textLength="24" lengthAdjust="spacingAndGlyphs">-1</text>
<line x1="313.2" y1="889.2" x2="434.3" y2="889.2" stroke="#9000ff" stroke-width="9.4" stroke-linecap="round" shape-rendering="crispEdges"/>
<text transform="translate(452.4,908.2) scale(1,1.04)" font-size="62.3">Ni/SiO<tspan font-size="35.5">2</tspan>-0/1:</text>
<text transform="translate(816.0,908.2) scale(1,1.04)" font-size="53">2.6 mg<tspan font-size="32.9">carbon deposits</tspan></text>
<text transform="translate(1252.3,908.2) scale(1,1.04)" font-size="53">g<tspan font-size="33.4">CH4</tspan></text>
<text transform="translate(1351.0,878.0) scale(1,1.04)" font-size="32" textLength="24" lengthAdjust="spacingAndGlyphs">-1</text>
<line x1="313.2" y1="967.4" x2="434.3" y2="967.4" stroke="#0000ff" stroke-width="9.4" stroke-linecap="round" shape-rendering="crispEdges"/>
<text transform="translate(452.4,986.4) scale(1,1.04)" font-size="62.3">Ni/SiO<tspan font-size="35.5">2</tspan>-2/0:</text>
<text transform="translate(816.0,986.4) scale(1,1.04)" font-size="53">1.4 mg<tspan font-size="32.9">carbon deposits</tspan></text>
<text transform="translate(1252.3,986.4) scale(1,1.04)" font-size="53">g<tspan font-size="33.4">CH4</tspan></text>
<text transform="translate(1351.0,956.1) scale(1,1.04)" font-size="32" textLength="24" lengthAdjust="spacingAndGlyphs">-1</text>
<line x1="313.2" y1="1045.5" x2="434.3" y2="1045.5" stroke="#ff0000" stroke-width="9.4" stroke-linecap="round" shape-rendering="crispEdges"/>
<text transform="translate(452.4,1064.5) scale(1,1.04)" font-size="62.3">Ni/SiO<tspan font-size="35.5">2</tspan>-2/1:</text>
<text transform="translate(816.0,1064.5) scale(1,1.04)" font-size="53">0.9 mg<tspan font-size="32.9">carbon deposits</tspan></text>
<text transform="translate(1252.3,1064.5) scale(1,1.04)" font-size="53">g<tspan font-size="33.4">CH4</tspan></text>
<text transform="translate(1351.0,1034.2) scale(1,1.04)" font-size="32" textLength="24" lengthAdjust="spacingAndGlyphs">-1</text>
</svg></body></html>
